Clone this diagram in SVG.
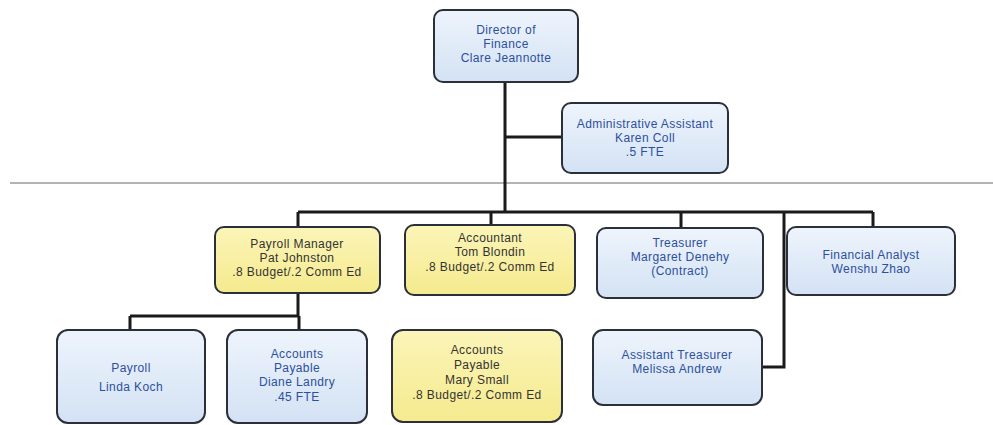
<svg xmlns="http://www.w3.org/2000/svg" width="993" height="425" viewBox="0 0 993 425">
<defs>
<linearGradient id="gb" x1="0" y1="0" x2="0" y2="1"><stop offset="0" stop-color="#eef4fc"/><stop offset="1" stop-color="#d3e2f4"/></linearGradient>
<linearGradient id="gy" x1="0" y1="0" x2="0" y2="1"><stop offset="0" stop-color="#fbf5b8"/><stop offset="1" stop-color="#f5ea8e"/></linearGradient>
</defs>
<style>
.b{fill:url(#gb);stroke:#2b2f3a;stroke-width:2}
.y{fill:url(#gy);stroke:#2b2f3a;stroke-width:2}
text{font-family:"Liberation Sans",Arial,sans-serif;font-size:12px;letter-spacing:0.4px;text-anchor:middle}
.tb{fill:#2d4f9e}
.ty{fill:#333333}
.c{fill:none;stroke:#1a1a1a;stroke-width:3}
</style>
<rect width="993" height="425" fill="#ffffff"/>
<line x1="10" y1="183" x2="993" y2="183" stroke="#9a9a9a" stroke-width="1.5"/>
<g id="connectors">
<path class="c" d="M505 82V212M505 137H562M298 212H873M298 212V227M491 212V225M681 212V228M873 212V227M784 212V367H762M298 293V316M130 316H299M130 316V330M299 316V330"/>
</g>
<g id="director"><rect class="b" x="434" y="10" width="144" height="72" rx="9"/>
<text class="tb" x="506" y="34">Director of</text><text class="tb" x="506" y="48">Finance</text><text class="tb" x="506" y="62">Clare Jeannotte</text></g>
<g id="admin"><rect class="b" x="562" y="103" width="166" height="70" rx="9"/>
<text class="tb" x="645" y="128">Administrative Assistant</text><text class="tb" x="645" y="142">Karen Coll</text><text class="tb" x="645" y="156">.5 FTE</text></g>
<g id="payrollmgr"><rect class="y" x="215" y="227" width="165" height="66" rx="9"/>
<text class="ty" x="297" y="248">Payroll Manager</text><text class="ty" x="297" y="262">Pat Johnston</text><text class="ty" x="297" y="276">.8 Budget/.2 Comm Ed</text></g>
<g id="accountant"><rect class="y" x="405" y="225" width="170" height="70" rx="9"/>
<text class="ty" x="490" y="242">Accountant</text><text class="ty" x="490" y="256">Tom Blondin</text><text class="ty" x="490" y="271">.8 Budget/.2 Comm Ed</text></g>
<g id="treasurer"><rect class="b" x="597" y="228" width="166" height="70" rx="9"/>
<text class="tb" x="680" y="247">Treasurer</text><text class="tb" x="680" y="261">Margaret Denehy</text><text class="tb" x="680" y="275">(Contract)</text></g>
<g id="analyst"><rect class="b" x="787" y="227" width="168" height="68" rx="9"/>
<text class="tb" x="871" y="259">Financial Analyst</text><text class="tb" x="871" y="273">Wenshu Zhao</text></g>
<g id="payroll"><rect class="b" x="57" y="330" width="148" height="93" rx="11"/>
<text class="tb" x="131" y="372">Payroll</text><text class="tb" x="131" y="391">Linda Koch</text></g>
<g id="ap-diane"><rect class="b" x="227" y="330" width="140" height="93" rx="11"/>
<text class="tb" x="297" y="358">Accounts</text><text class="tb" x="297" y="372">Payable</text><text class="tb" x="297" y="386">Diane Landry</text><text class="tb" x="297" y="401">.45 FTE</text></g>
<g id="ap-mary"><rect class="y" x="392" y="330" width="170" height="92" rx="11"/>
<text class="ty" x="477" y="354">Accounts</text><text class="ty" x="477" y="369">Payable</text><text class="ty" x="477" y="384">Mary Small</text><text class="ty" x="477" y="399">.8 Budget/.2 Comm Ed</text></g>
<g id="asst-treasurer"><rect class="b" x="593" y="330" width="169" height="75" rx="10"/>
<text class="tb" x="677" y="359">Assistant Treasurer</text><text class="tb" x="677" y="373">Melissa Andrew</text></g>
</svg>
